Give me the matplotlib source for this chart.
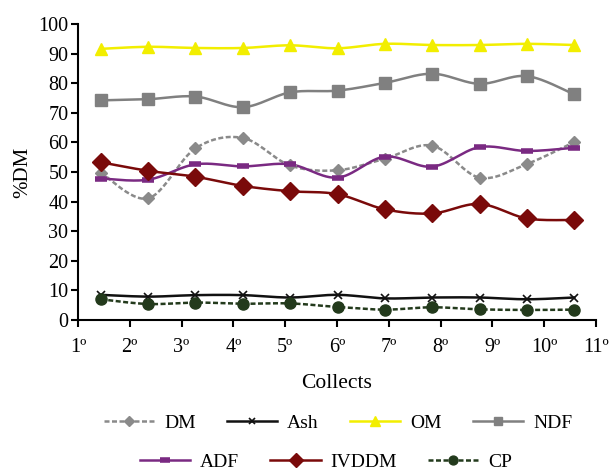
import numpy as np
import matplotlib
matplotlib.use("Agg")
import matplotlib.pyplot as plt
from matplotlib.lines import Line2D

plt.rcParams['font.family'] = ['Liberation Serif', 'DejaVu Serif']

# ---- data ----
collects = ["1º", "2º", "3º", "4º", "5º", "6º", "7º", "8º", "9º", "10º", "11º"]
DM    = [49.8, 41.1, 58.0, 61.5, 52.2, 50.6, 54.5, 58.9, 48.1, 52.7, 60.1]
Ash   = [8.5, 7.9, 8.4, 8.4, 7.6, 8.5, 7.3, 7.6, 7.6, 7.0, 7.6]
OM    = [91.6, 92.3, 91.9, 91.9, 92.8, 91.8, 93.3, 92.9, 92.9, 93.3, 92.9]
NDF   = [74.2, 74.6, 75.5, 71.9, 76.9, 77.5, 80.1, 83.2, 79.8, 82.4, 76.2]
ADF   = [47.8, 47.4, 52.6, 51.9, 52.6, 48.1, 55.2, 51.8, 58.4, 57.1, 58.2]
IVDDM = [53.3, 50.4, 48.4, 45.3, 43.5, 42.5, 37.4, 36.0, 39.2, 34.3, 33.8]
CP    = [7.0, 5.4, 5.9, 5.5, 5.6, 4.4, 3.5, 4.3, 3.6, 3.4, 3.5]

# data points sit between the category ticks (chart-area offset)
x_pts = np.linspace(1.44, 10.58, len(DM))


def smooth(x, y, n=30):
    x = np.asarray(x, float); y = np.asarray(y, float)
    P = np.column_stack([x, y])
    Pe = np.vstack([P[0], P, P[-1]])
    out = []
    t = np.linspace(0, 1, n)[:, None]
    for i in range(len(P) - 1):
        p0, p1, p2, p3 = Pe[i], Pe[i + 1], Pe[i + 2], Pe[i + 3]
        c1 = p1 + (p2 - p0) / 6.0
        c2 = p2 - (p3 - p1) / 6.0
        seg = ((1 - t) ** 3) * p1 + 3 * ((1 - t) ** 2) * t * c1 + 3 * (1 - t) * t ** 2 * c2 + t ** 3 * p2
        out.append(seg if i == 0 else seg[1:])
    S = np.vstack(out)
    return S[:, 0], S[:, 1]


series = [
    ("DM", DM, dict(color="#8a8a8a", ls=(0, (2, 1)), marker="D", ms=6)),
    ("Ash", Ash, dict(color="#111111", ls="-", marker="x", ms=6, mew=1.2)),
    ("OM", OM, dict(color="#f2ee00", ls="-", marker="^", ms=9)),
    ("NDF", NDF, dict(color="#808080", ls="-", marker="s", ms=8)),
    ("ADF", ADF, dict(color="#7a2a82", ls="-", marker="_", ms=9, mew=4)),
    ("IVDDM", IVDDM, dict(color="#7a0a0a", ls="-", marker="D", ms=9)),
    ("CP", CP, dict(color="#233a1c", ls=(0, (2, 1)), marker="o", ms=8)),
]

fig = plt.figure(figsize=(6.09, 4.71), dpi=100)
ax = fig.add_axes([78 / 609, 1 - 320 / 471, (596 - 78) / 609, (320 - 24) / 471])

handles = []
for name, vals, st in series:
    sx, sy = smooth(x_pts, vals)
    ax.plot(sx, sy, color=st["color"], ls=st["ls"], lw=1.8, zorder=2)
    ax.plot(x_pts, vals, ls="none", marker=st["marker"], ms=st["ms"],
            color=st["color"], mew=st.get("mew", 1), zorder=3)
    handles.append(Line2D([], [], color=st["color"], ls=st["ls"], lw=1.8,
                          marker=st["marker"], ms=st["ms"] * 0.8,
                          mew=st.get("mew", 1), label=name))

ax.set_xlim(1, 11)
ax.set_ylim(0, 100)
ax.set_xticks(np.arange(1, 12))
ax.set_xticklabels(collects)
ax.set_yticks(np.arange(0, 101, 10))
for s in ["top", "right"]:
    ax.spines[s].set_visible(False)
for s in ["left", "bottom"]:
    ax.spines[s].set_linewidth(1.5)
ax.tick_params(axis="both", direction="out", length=5, width=1.5, labelsize=14.5)
ax.tick_params(axis="y", pad=2)
ax.tick_params(axis="x", pad=8)
ax.set_ylabel("%DM", fontsize=15, labelpad=4)
ax.set_xlabel("Collects", fontsize=15.5, labelpad=12)

leg_kw = dict(frameon=False, fontsize=14, handlelength=2.6, handletextpad=0.5,
              columnspacing=1.6, borderaxespad=0)
l1 = fig.legend(handles=handles[:4], ncol=4, loc="center",
                bbox_to_anchor=(338 / 609, 1 - 423 / 471), **leg_kw)
l2 = fig.legend(handles=handles[4:], ncol=3, loc="center",
                bbox_to_anchor=(326 / 609, 1 - 462 / 471), **leg_kw)

fig.savefig("out.png", dpi=100)
